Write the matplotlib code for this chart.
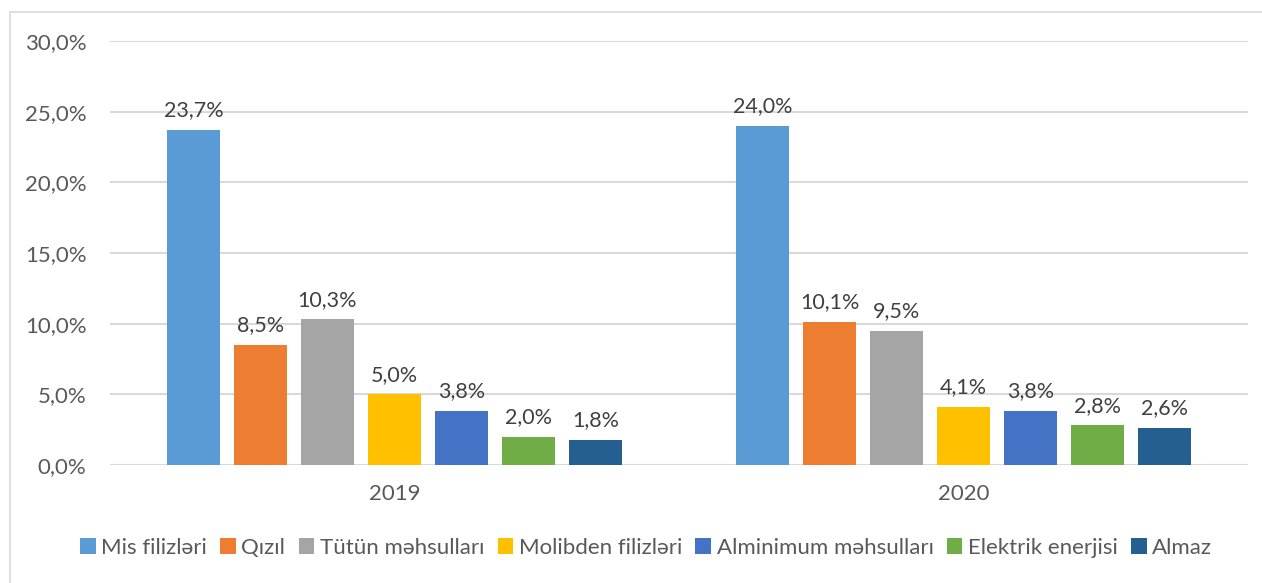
import numpy as np
import matplotlib.pyplot as plt
from matplotlib.patches import Rectangle

plt.rcParams['font.family'] = ['Lato', 'DejaVu Sans']

years = ['2019', '2020']
products = ['Mis filizləri', 'Qızıl', 'Tütün məhsulları', 'Molibden filizləri',
            'Alminimum məhsulları', 'Elektrik enerjisi', 'Almaz']
values_2019 = [23.7, 8.5, 10.3, 5.0, 3.8, 2.0, 1.8]
values_2020 = [24.0, 10.1, 9.5, 4.1, 3.8, 2.8, 2.6]
colors = ['#5B9BD5', '#ED7D31', '#A5A5A5', '#FFC000', '#4472C4', '#70AD47', '#255E91']
y_ticks = [0, 5, 10, 15, 20, 25, 30]


def pct(v):
    return f'{v:.1f}%'.replace('.', ',')


fig = plt.figure(figsize=(12.62, 5.83), dpi=100)
fig.patches.append(Rectangle((10 / 1262, -0.1), 1.2, (583 - 12) / 583 + 0.1,
                             transform=fig.transFigure, fill=False,
                             edgecolor='#D9D9D9', linewidth=1.2))
ax = fig.add_axes([110 / 1262, 118 / 583, 1138 / 1262, 424 / 583])

x = np.arange(len(years))
step = 0.1177
width = 0.0931
for i, name in enumerate(products):
    vals = [values_2019[i], values_2020[i]]
    pos = x + (i - 3) * step
    ax.bar(pos, vals, width=width, color=colors[i], label=name, zorder=3)
    for p, v in zip(pos, vals):
        ax.annotate(pct(v), (p, v), xytext=(0, 7), textcoords='offset points',
                    ha='center', va='bottom', fontsize=15.5, color='#404040')

ax.set_xlim(-0.5, 1.5)
ax.set_ylim(0, 30)
ax.set_yticks(y_ticks)
ax.set_yticklabels([pct(t) for t in y_ticks])
ax.set_xticks(x)
ax.set_xticklabels(years)
ax.tick_params(axis='both', length=0, labelsize=16, labelcolor='#595959')
ax.tick_params(axis='y', pad=17)
ax.tick_params(axis='x', pad=14)
ax.grid(axis='y', color='#D9D9D9', linewidth=1.5, zorder=0)
for s in ax.spines.values():
    s.set_visible(False)

leg = fig.legend(loc='center', bbox_to_anchor=(0.512, (583 - 548) / 583), ncol=7,
                 frameon=False, fontsize=16, handlelength=0.7, handleheight=0.7,
                 handletextpad=0.25, columnspacing=0.6)
for t in leg.get_texts():
    t.set_color('#595959')

fig.savefig('out.png', dpi=100)
